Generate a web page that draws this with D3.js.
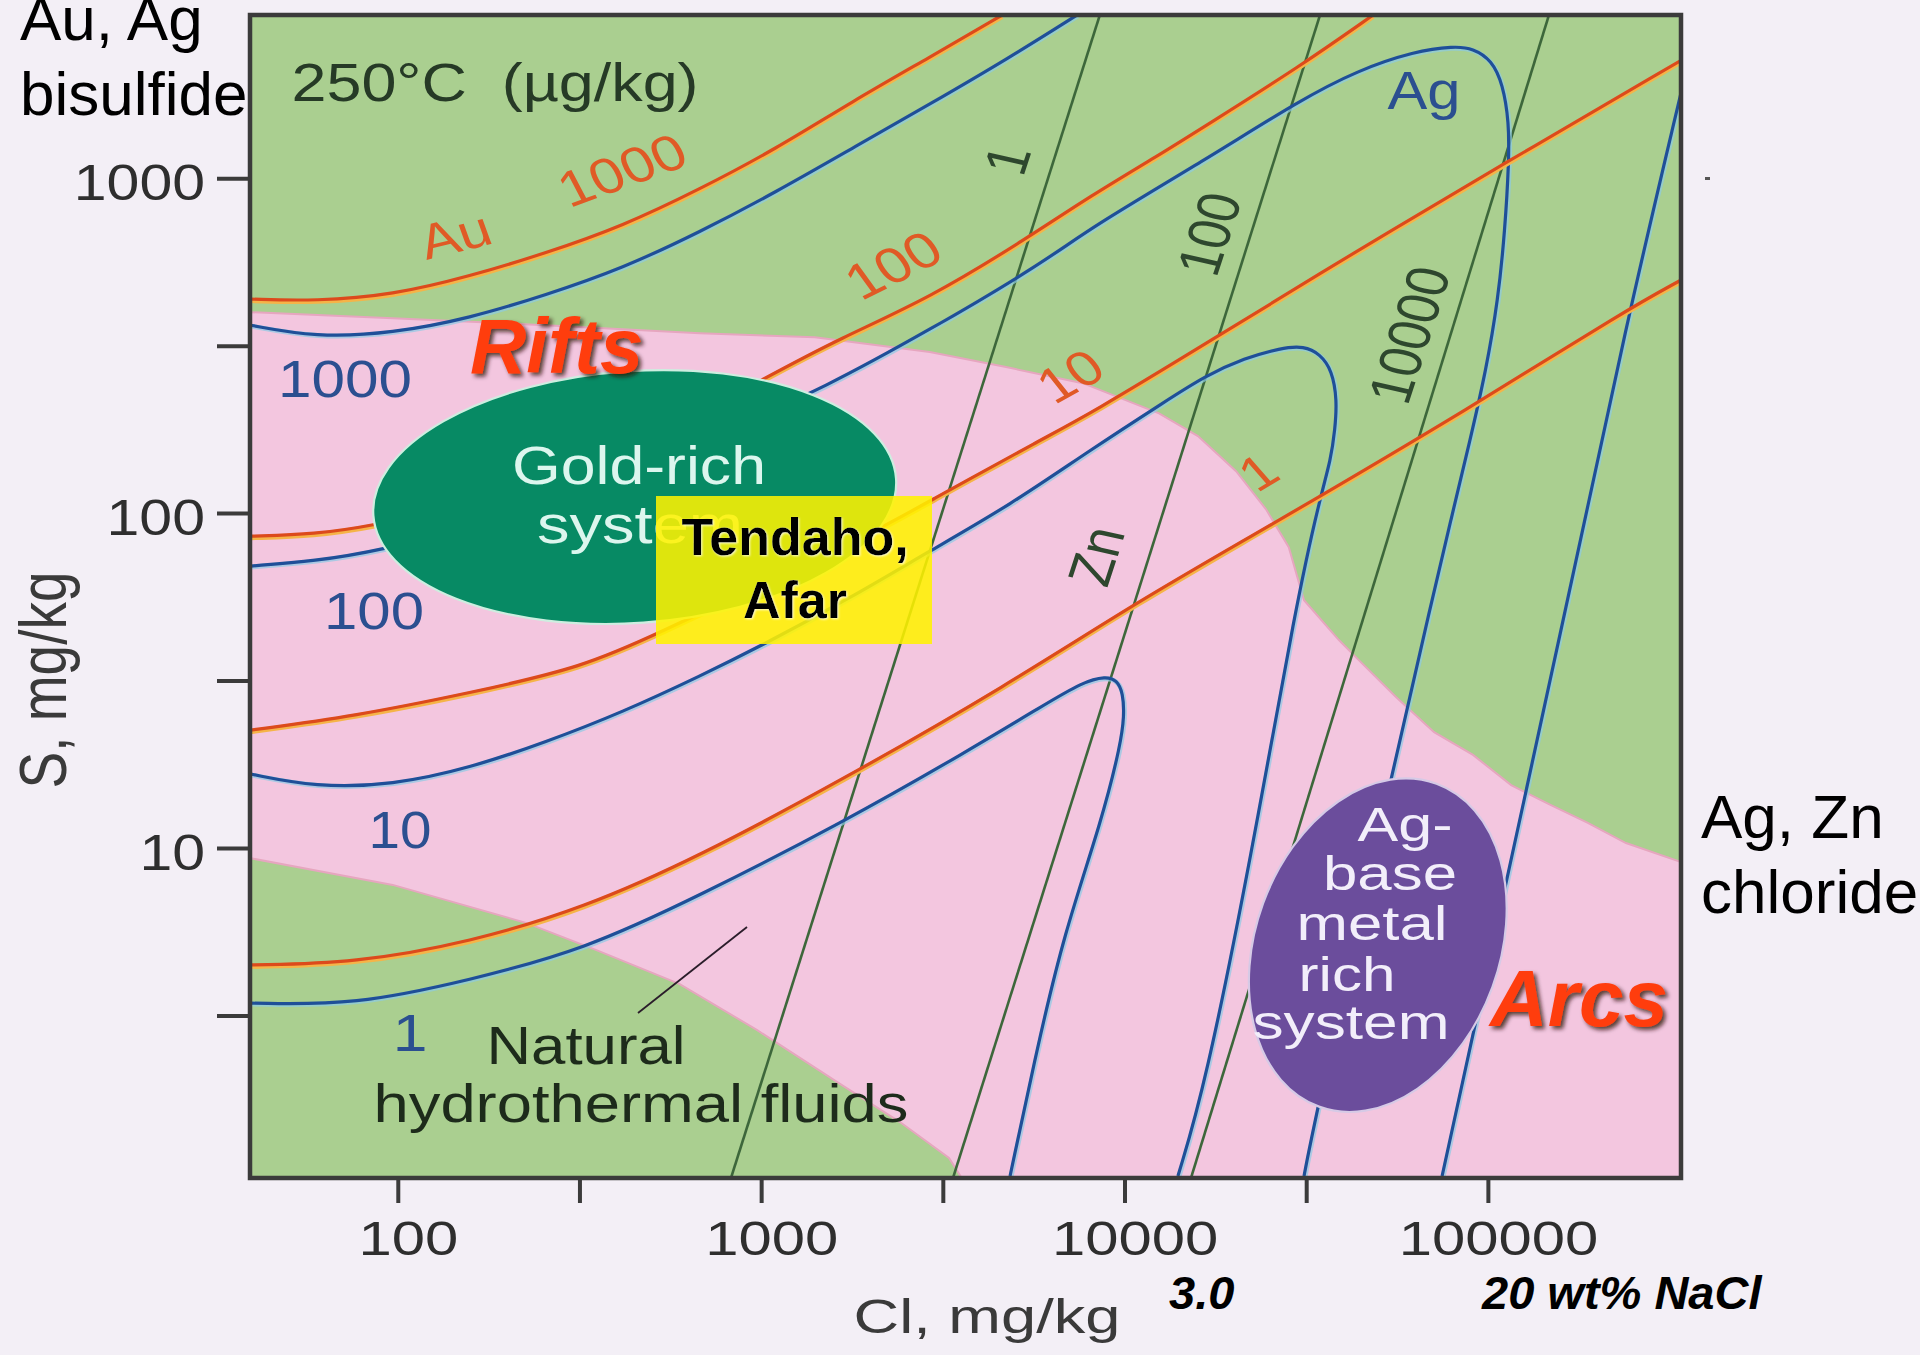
<!DOCTYPE html>
<html>
<head>
<meta charset="utf-8">
<script src="https://cdn.jsdelivr.net/npm/d3@7"></script>
<style>
  html, body { margin: 0; padding: 0; background: #f3eff6; }
  svg { display: block; }
  text { font-family: "Liberation Sans", Arial, Helvetica, sans-serif; }
</style>
</head>
<body>
<svg id="chart" width="1920" height="1355"></svg>
<script>
// ---- Axes (mg/kg, log scales) ----
const xDomain = [39.2, 340000];
const yDomain = [1.035, 3070];
const xMajorTicks = [100, 1000, 10000, 100000];
const xMinorTicks = [316.2, 3162, 31623];
const yMajorTicks = [10, 100, 1000];
const yMinorTicks = [3.162, 31.62, 316.2];

// ---- Solubility contours at 250 °C (µg/kg); every point is [log10 Cl, log10 S] ----
// Au contours
const au1000 = [[1.595,2.639],[1.774,2.633],[1.986,2.651],[2.198,2.707],[2.407,2.776],[2.619,2.857],[2.831,2.967],[3.040,3.087],[3.252,3.230],[3.464,3.361],[3.663,3.487]];
const au100  = [[1.595,1.931],[1.774,1.937],[1.923,1.961],[2.198,2.024],[2.473,2.113],[2.749,2.248],[3.010,2.403],[3.217,2.522],[3.464,2.642],[3.737,2.824],[3.905,2.946],[4.095,3.069],[4.221,3.155],[4.483,3.334],[4.684,3.487]];
const au10   = [[1.595,1.352],[1.882,1.394],[2.198,1.463],[2.512,1.540],[2.724,1.645],[2.996,1.785],[3.244,1.904],[3.464,2.036],[3.778,2.224],[3.905,2.296],[4.221,2.504],[4.642,2.785],[5.033,3.036],[5.532,3.352]];
const au1    = [[1.595,0.651],[1.882,0.657],[2.198,0.719],[2.512,0.821],[2.831,0.976],[3.217,1.200],[3.674,1.484],[4.042,1.740],[4.389,1.955],[4.959,2.319],[5.380,2.606],[5.532,2.696]];

// Ag contours
const ag1000 = [[1.595,2.561],[1.774,2.525],[1.986,2.537],[2.198,2.582],[2.407,2.651],[2.619,2.731],[2.831,2.839],[3.040,2.958],[3.252,3.090],[3.464,3.221],[3.685,3.361],[3.869,3.487]];
const ag1000Return = [[5.532,3.257],[5.380,2.561],[5.220,1.740],[4.874,0.021]];
const ag100 = [[1.595,1.842],[1.774,1.857],[1.945,1.887],[2.226,1.964],[2.501,2.069],[2.776,2.194],[3.024,2.307],[3.148,2.361],[3.464,2.546],[3.778,2.749],[3.905,2.851],[4.221,3.054],[4.483,3.233],[4.642,3.322],[4.799,3.379],[4.907,3.394],[4.959,3.388],[5.011,3.352],[5.041,3.281],[5.058,3.167],[5.058,3.051],[5.047,2.845],[5.028,2.636],[4.995,2.427],[4.951,2.218],[4.898,1.979],[4.846,1.740],[4.736,1.221],[4.527,0.206],[4.494,0.021]];
const ag10 = [[1.595,1.221],[1.774,1.182],[1.986,1.188],[2.198,1.239],[2.407,1.316],[2.619,1.406],[2.831,1.513],[3.010,1.609],[3.244,1.746],[3.464,1.887],[3.685,2.024],[3.905,2.188],[4.117,2.337],[4.221,2.409],[4.331,2.463],[4.430,2.493],[4.494,2.499],[4.538,2.475],[4.571,2.427],[4.585,2.337],[4.579,2.248],[4.568,2.161],[4.538,2.045],[4.474,1.740],[4.348,0.970],[4.221,0.287],[4.147,0.021]];
const ag1 = [[1.595,0.537],[1.882,0.531],[2.198,0.606],[2.512,0.696],[2.829,0.857],[3.222,1.075],[3.569,1.290],[3.778,1.427],[3.885,1.496],[3.949,1.513],[3.979,1.501],[3.996,1.463],[3.999,1.394],[3.990,1.313],[3.938,1.084],[3.833,0.743],[3.759,0.400],[3.685,0.021]];

// Zn contours (straight in log-log space)
const zn1     = [[3.932,3.487],[2.917,0.015]];
const zn100   = [[4.538,3.487],[3.528,0.015]];
const zn10000 = [[5.168,3.487],[4.183,0.015]];

// Field of natural hydrothermal fluids: upper and lower limits
const fluidsUpper = [[1.593,2.600],[1.986,2.582],[2.407,2.561],[2.831,2.537],[3.148,2.525],[3.464,2.481],[3.674,2.436],[3.885,2.388],[4.095,2.298],[4.202,2.230],[4.307,2.125],[4.389,2.012],[4.452,1.898],[4.494,1.740],[4.590,1.621],[4.642,1.564],[4.747,1.451],[4.852,1.346],[4.959,1.278],[5.064,1.188],[5.168,1.131],[5.275,1.075],[5.380,1.015],[5.532,0.958]];
const fluidsLower = [[1.593,0.970],[1.986,0.890],[2.355,0.776],[2.545,0.696],[2.776,0.594],[2.988,0.457],[3.217,0.296],[3.382,0.182],[3.517,0.075],[3.552,0.015]];

// Deposit-type fields: centre and half-extent, in log10 units
const goldRich = { cl: 2.652, s: 2.048, dCl: 0.721, dS: 0.376 };
const agBaseMetal = { cl: 4.697, s: 0.710, dCl: 0.336, dS: 0.513 };

// ---------------------------------------------------------------
const svg = d3.select("#chart");
const plot = { left: 250, right: 1681, top: 15, bottom: 1178 };
const x = d3.scaleLog().domain(xDomain).range([plot.left, plot.right]);
const y = d3.scaleLog().domain(yDomain).range([plot.bottom, plot.top]);
const px = p => x(Math.pow(10, p[0]));
const py = p => y(Math.pow(10, p[1]));

const defs = svg.append("defs");
defs.append("clipPath").attr("id", "plotClip").append("rect")
  .attr("x", plot.left).attr("y", plot.top)
  .attr("width", plot.right - plot.left).attr("height", plot.bottom - plot.top);
const shadow = defs.append("filter").attr("id", "darkShadow")
  .attr("x", "-10%").attr("y", "-20%").attr("width", "130%").attr("height", "150%");
shadow.append("feDropShadow").attr("dx", 3).attr("dy", 3).attr("stdDeviation", 2)
  .attr("flood-color", "#2a0a00").attr("flood-opacity", 0.75);
const glow = defs.append("filter").attr("id", "lightGlow")
  .attr("x", "-10%").attr("y", "-20%").attr("width", "130%").attr("height", "150%");
glow.append("feDropShadow").attr("dx", 1).attr("dy", 1).attr("stdDeviation", 1)
  .attr("flood-color", "#ffffff").attr("flood-opacity", 0.8);

const body = svg.append("g").attr("clip-path", "url(#plotClip)");

// background field
body.append("rect").attr("x", plot.left).attr("y", plot.top)
  .attr("width", plot.right - plot.left).attr("height", plot.bottom - plot.top)
  .attr("fill", "#aacf90");

// natural fluids field
const straight = d3.line().x(px).y(py);
const fluidsPolygon = fluidsUpper.concat([[5.532, 0.015]], fluidsLower.slice().reverse());
body.append("path").attr("d", straight(fluidsPolygon) + "Z").attr("fill", "#f3c6df");
[fluidsUpper, fluidsLower].forEach(edge => {
  body.append("path").attr("d", straight(edge)).attr("fill", "none")
    .attr("stroke", "#e6a6bf").attr("stroke-width", 2);
});

const smooth = d3.line().x(px).y(py).curve(d3.curveBasis);

// Zn
[zn1, zn100, zn10000].forEach(pts => {
  body.append("path").attr("d", straight(pts)).attr("fill", "none")
    .attr("stroke", "#3d673b").attr("stroke-width", 2.6);
});

// Ag
[ag1000, ag1000Return, ag100, ag10, ag1].forEach(pts => {
  body.append("path").attr("d", smooth(pts)).attr("fill", "none")
    .attr("stroke", "#8ccbe4").attr("stroke-opacity", 0.7).attr("stroke-width", 4.8)
    .attr("transform", "translate(1,1)");
  body.append("path").attr("d", smooth(pts)).attr("fill", "none")
    .attr("stroke", "#1f4f98").attr("stroke-width", 3.2);
});

// Au
[au1000, au100, au10, au1].forEach(pts => {
  body.append("path").attr("d", smooth(pts)).attr("fill", "none")
    .attr("stroke", "#f5b448").attr("stroke-width", 5)
    .attr("transform", "translate(0,1.5)");
  body.append("path").attr("d", smooth(pts)).attr("fill", "none")
    .attr("stroke", "#dc4a1c").attr("stroke-width", 3.2);
});

// deposit-type fields
function field(f, fill, edge, tilt) {
  const cx = x(Math.pow(10, f.cl)), cy = y(Math.pow(10, f.s));
  const rx = x(Math.pow(10, f.cl + f.dCl)) - cx;
  const ry = cy - y(Math.pow(10, f.s + f.dS));
  body.append("ellipse").attr("cx", cx).attr("cy", cy).attr("rx", rx).attr("ry", ry)
    .attr("transform", `rotate(${tilt},${cx},${cy})`)
    .attr("fill", fill).attr("stroke", edge).attr("stroke-width", 2.2);
}
field(goldRich, "#078a64", "#cdeee0", -4);
field(agBaseMetal, "#6b4d9c", "#d6cae6", 20);

// ---- labels printed on the diagram (wide typeface) ----
const labels = svg.append("g");
function wideText(str, cx, base, size, width, fill) {
  const t = labels.append("text").attr("x", cx).attr("y", base)
    .attr("text-anchor", "middle").attr("font-size", size).attr("fill", fill).text(str);
  if (width) t.attr("textLength", width).attr("lengthAdjust", "spacingAndGlyphs");
  return t;
}
function tiltText(str, cx, cy, size, angle, fill) {
  labels.append("text")
    .attr("transform", `translate(${cx},${cy}) scale(1.2,1) rotate(${-angle})`)
    .attr("text-anchor", "middle").attr("dy", "0.35em")
    .attr("font-size", size).attr("fill", fill).text(str);
}

wideText("250°C\u00a0\u00a0(µg/kg)", 495, 101, 53, 407, "#263a26");
wideText("Gold-rich", 639, 484, 53, 254, "#dcf6ee");
wideText("system", 640, 543, 53, 206, "#dcf6ee");
wideText("Natural", 586, 1064, 54, 199, "#1d2b1b");
wideText("hydrothermal fluids", 641, 1122, 54, 535, "#1d2b1b");
labels.append("line").attr("x1", 638).attr("y1", 1013).attr("x2", 747).attr("y2", 927)
  .attr("stroke", "#2a1d2a").attr("stroke-width", 1.8);

const agBlue = "#2b4f90";
wideText("1000", 345, 397, 52, 134, agBlue);
wideText("100", 374, 629, 52, 100, agBlue);
wideText("10", 400, 848, 52, 63, agBlue);
labels.append("text").attr("transform", "translate(410,1051) scale(1.2,1)")
  .attr("text-anchor", "middle").attr("font-size", 52).attr("fill", agBlue).text("1");
wideText("Ag", 1424, 109, 54, 73, agBlue);

const auOrange = "#e05a26";
tiltText("Au", 455, 235, 49, 16.7, auOrange);
tiltText("1000", 622, 170, 50, 23.6, auOrange);
tiltText("100", 893, 265, 50, 31, auOrange);
tiltText("10", 1070, 376, 49, 33.6, auOrange);
tiltText("1", 1258, 472, 48, 36, auOrange);

const znGreen = "#2e472e";
tiltText("1", 1007, 160, 50, 74.8, znGreen);
tiltText("100", 1209, 234, 50, 74.8, znGreen);
tiltText("10000", 1409, 335, 50, 74.8, znGreen);
tiltText("Zn", 1096, 556, 50, 74.8, znGreen);

const purpleText = "#f2eefa";
wideText("Ag-", 1405, 841, 48, 95, purpleText);
wideText("base", 1390, 890, 48, 134, purpleText);
wideText("metal", 1372, 940, 48, 151, purpleText);
wideText("rich", 1347, 991, 48, 97, purpleText);
wideText("system", 1351, 1039, 48, 197, purpleText);

// ---- Tendaho marker ----
svg.append("rect").attr("x", 656).attr("y", 496).attr("width", 276).attr("height", 148)
  .attr("fill", "#fff200").attr("fill-opacity", 0.87);
[["Tendaho,", 555], ["Afar", 618]].forEach(([s, b]) => {
  svg.append("text").attr("x", 795).attr("y", b).attr("text-anchor", "middle")
    .attr("font-size", 52).attr("font-weight", "bold").attr("fill", "#000")
    .attr("filter", "url(#lightGlow)").text(s);
});

// ---- frame and axes ----
const axisColor = "#3b3b3b";
function stretch(factor) {
  return function () {
    const len = this.getComputedTextLength();
    d3.select(this).attr("textLength", len * factor).attr("lengthAdjust", "spacingAndGlyphs");
  };
}
function styleAxis(g) {
  g.attr("font-family", null).attr("font-size", null);
  g.select(".domain").remove();
  g.selectAll(".tick line").attr("stroke", axisColor).attr("stroke-width", 4);
}

const gxMinor = svg.append("g").attr("transform", `translate(0,${plot.bottom})`)
  .call(d3.axisBottom(x).tickValues(xMinorTicks).tickFormat("").tickSize(25));
styleAxis(gxMinor);
const gx = svg.append("g").attr("transform", `translate(0,${plot.bottom})`)
  .call(d3.axisBottom(x).tickValues(xMajorTicks).tickFormat(d3.format("d")).tickSize(25).tickPadding(17));
styleAxis(gx);
gx.selectAll(".tick text").attr("font-size", 49).attr("fill", "#2e2e2e").attr("dx", 10)
  .each(stretch(1.22));

const gyMinor = svg.append("g").attr("transform", `translate(${plot.left},0)`)
  .call(d3.axisLeft(y).tickValues(yMinorTicks).tickFormat("").tickSize(33));
styleAxis(gyMinor);
const gy = svg.append("g").attr("transform", `translate(${plot.left},0)`)
  .call(d3.axisLeft(y).tickValues(yMajorTicks).tickFormat(d3.format("d")).tickSize(33).tickPadding(12));
styleAxis(gy);
gy.selectAll(".tick text").attr("font-size", 50).attr("fill", "#2e2e2e").attr("dy", "0.42em")
  .each(stretch(1.18));

svg.append("rect").attr("x", plot.left).attr("y", plot.top)
  .attr("width", plot.right - plot.left).attr("height", plot.bottom - plot.top)
  .attr("fill", "none").attr("stroke", axisColor).attr("stroke-width", 4.5);

svg.append("text").attr("x", 987).attr("y", 1333).attr("text-anchor", "middle")
  .attr("font-size", 49).attr("fill", "#3a3a3a")
  .attr("textLength", 267).attr("lengthAdjust", "spacingAndGlyphs").text("Cl, mg/kg");
svg.append("text").attr("transform", "translate(66,680) scale(1.2,1) rotate(-90)")
  .attr("text-anchor", "middle").attr("font-size", 55).attr("fill", "#3a3a3a").text("S, mg/kg");

svg.append("rect").attr("x", 1705).attr("y", 177).attr("width", 5).attr("height", 3).attr("fill", "#555");

// ---- regime annotations ----
const note = svg.append("g");
note.append("text").attr("x", 20).attr("y", 40).attr("font-size", 62).attr("fill", "#000").text("Au, Ag");
note.append("text").attr("x", 20).attr("y", 115).attr("font-size", 62).attr("fill", "#000").text("bisulfide");
note.append("text").attr("x", 1701).attr("y", 838).attr("font-size", 62).attr("fill", "#000").text("Ag, Zn");
note.append("text").attr("x", 1701).attr("y", 913).attr("font-size", 62).attr("fill", "#000").text("chloride");

[["Rifts", 470, 373, 78], ["Arcs", 1490, 1026, 80]].forEach(([s, tx, ty, fs]) => {
  note.append("text").attr("x", tx).attr("y", ty).attr("font-size", fs)
    .attr("font-weight", "bold").attr("font-style", "italic")
    .attr("fill", "#ff3c0c").attr("filter", "url(#darkShadow)").text(s);
});

note.append("text").attr("x", 1169).attr("y", 1309).attr("font-size", 47)
  .attr("font-weight", "bold").attr("font-style", "italic").attr("fill", "#000").text("3.0");
note.append("text").attr("x", 1482).attr("y", 1309).attr("font-size", 47)
  .attr("font-weight", "bold").attr("font-style", "italic").attr("fill", "#000").text("20 wt% NaCl");
</script>
</body>
</html>
